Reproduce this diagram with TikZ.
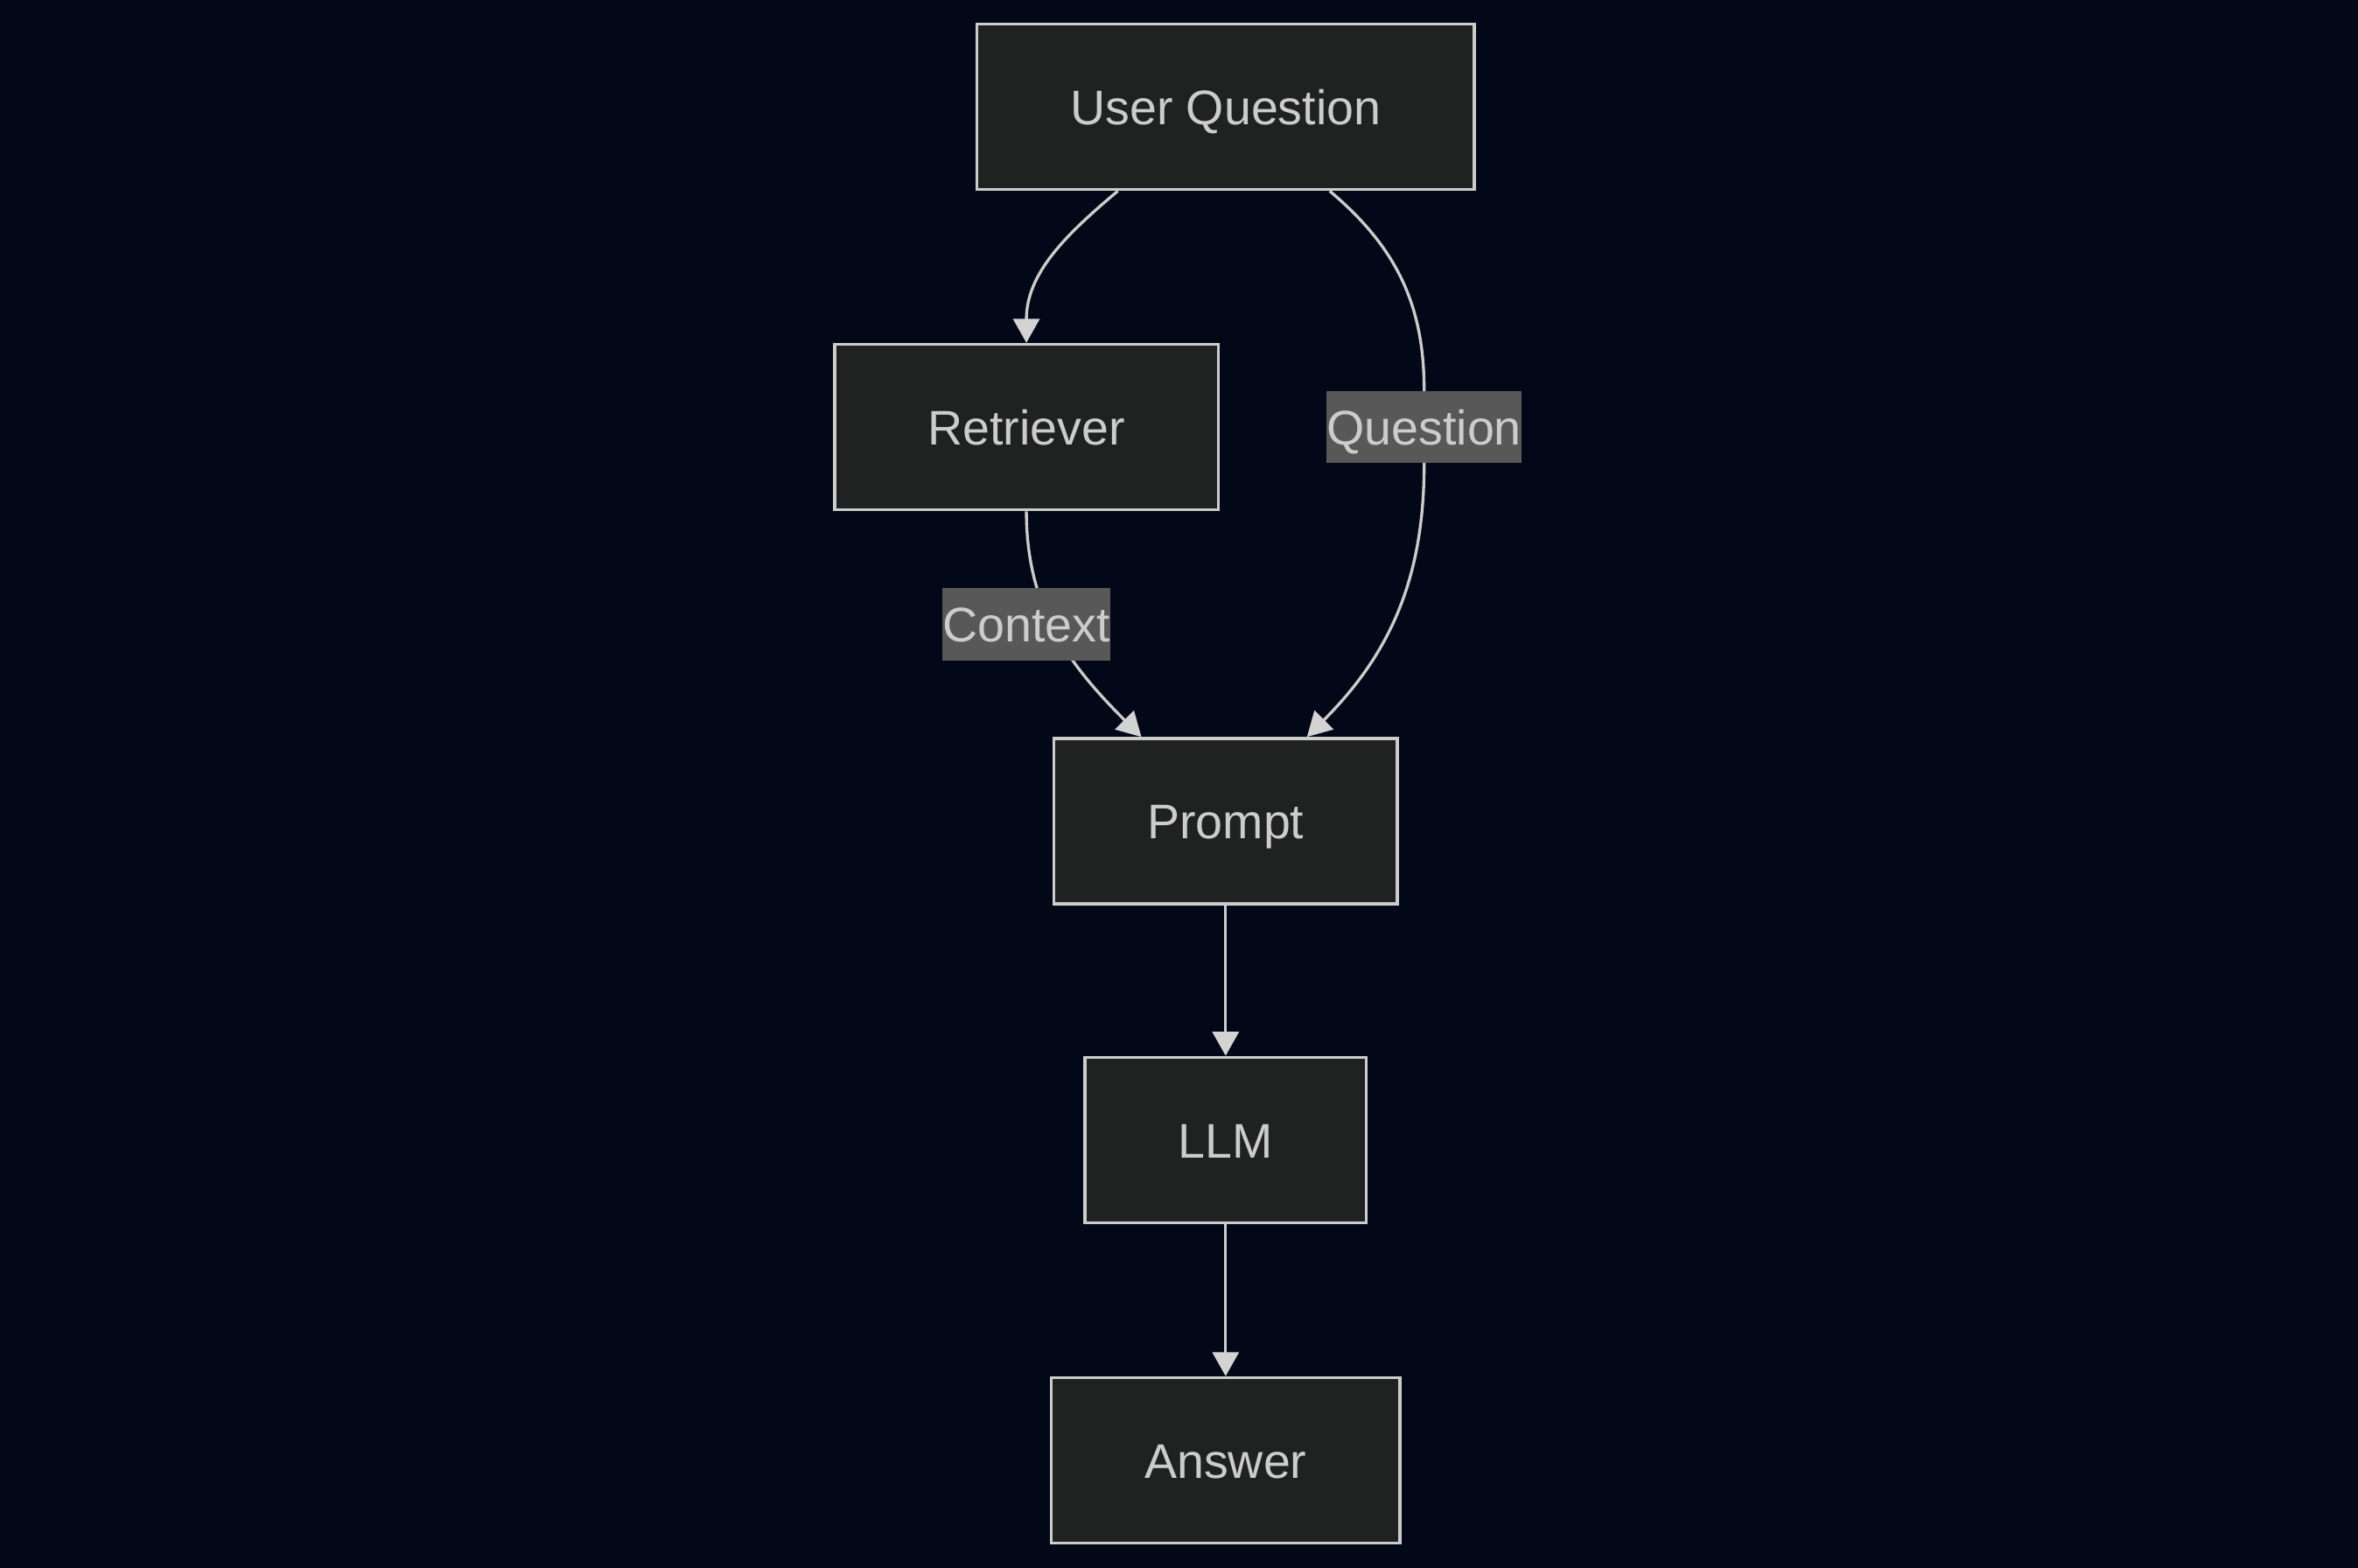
\documentclass[tikz,border=0pt]{standalone}
\usepackage{fontspec}
\setmainfont{Liberation Sans}
\usetikzlibrary{positioning,calc,arrows.meta}
\definecolor{bgcol}{HTML}{020817}
\definecolor{boxfill}{HTML}{202121}
\definecolor{boxline}{HTML}{CCCCCC}
\definecolor{lblfill}{HTML}{585858}
\definecolor{tipcol}{HTML}{D3D3D3}
\tikzset{x=1cm, y=1cm}
\tikzset{blk/.style={draw=boxline,fill=boxfill,rectangle,line width=0.58pt,minimum height=1.1cm,inner xsep=0.62cm,text height=7.3pt,text depth=0.5pt,text=boxline,node font=\fontsize{9.2}{11}\selectfont}}
\tikzset{lbl/.style={fill=lblfill,rectangle,inner sep=0pt,minimum height=0.48cm,text height=7.3pt,text depth=0.5pt,text=boxline,node font=\fontsize{9.2}{11}\selectfont}}
\pgfdeclarelayer{edgelayer}
\pgfsetlayers{edgelayer,main}
\tikzstyle{arrow}=[draw=boxline, line width=0.55pt, -{Triangle[length=0.16cm,width=0.175cm,color=tipcol]}]

\begin{document}
\begin{tikzpicture}
        \useasboundingbox (0,0) rectangle (15.68,-10.426);
        \node[blk] (uq) at (8.15,-0.71) {User Question};
        \node[blk] (rt) at (6.825,-2.84) {Retriever};
        \node[blk] (pr) at (8.15,-5.46) {Prompt};
        \node[blk] (llm) [below= 1.0 cm of pr] {LLM};
        \node[blk] (ans) [below= 1.01 cm of llm] {Answer};
        \node[lbl] (ql) at (9.47,-2.84) {Question};
        \node[lbl] (cl) at (6.825,-4.15) {Context};
        \begin{pgfonlayer}{edgelayer}
        \fill[bgcol] (0,0) rectangle (15.68,-10.426);
        \draw[arrow] (uq.218) to[out=-140,in=90] (rt.north);
        \draw[arrow] (uq.-39) to[out=-40,in=90] (ql.north) -- (ql.south) to[out=-90,in=45] (pr.46);
        \draw[arrow] (rt.south) to[out=-90,in=135] (pr.135);
        \draw[arrow] (pr) -- (llm);
        \draw[arrow] (llm) -- (ans);
        \end{pgfonlayer}
\end{tikzpicture}
\end{document}
